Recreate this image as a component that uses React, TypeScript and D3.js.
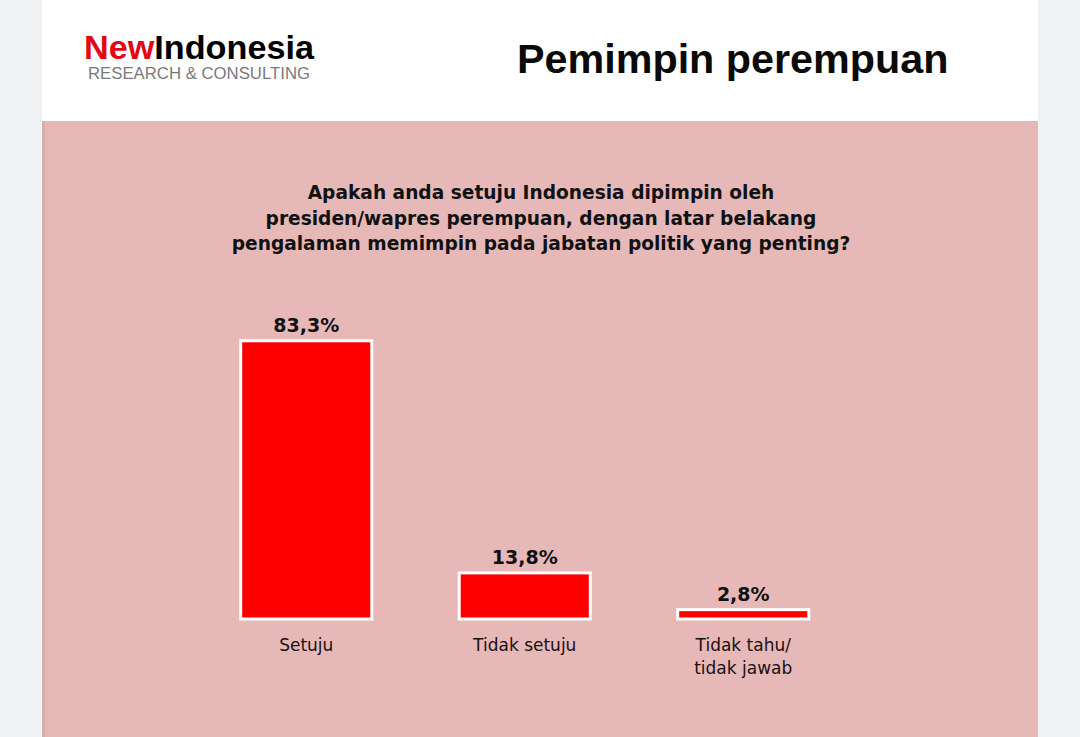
import React from 'react';
import * as d3 from 'd3';

const categories: string[] = ['Setuju', 'Tidak setuju', 'Tidak tahu/\ntidak jawab'];
const values: number[] = [83.3, 13.8, 2.8];
const valueLabels: string[] = ['83,3%', '13,8%', '2,8%'];
const questionLines: string[] = [
    'Apakah anda setuju Indonesia dipimpin oleh',
    'presiden/wapres perempuan, dengan latar belakang',
    'pengalaman memimpin pada jabatan politik yang penting?',
];

const W = 1080;
const H = 737;
const bodyFont = '"DejaVu Sans", Verdana, sans-serif';
const headFont = '"Liberation Sans", Arial, sans-serif';

const App: React.FC = () => {
    const x = d3.scaleBand<string>()
        .domain(categories)
        .range([197, 852.5])
        .paddingInner(0.4)
        .paddingOuter(0.2);
    const y = d3.scaleLinear().domain([0, 100]).range([619, 285]);

    return (
        <svg width={W} height={H} style={{position: 'absolute', left: 0, top: 0}}>
            <rect x={0} y={0} width={W} height={H} fill="#f1f2f4"/>
            <rect x={42} y={0} width={996} height={H} fill="#ffffff"/>
            <rect x={42} y={121} width={996} height={H - 121} fill="#e6b8b8"/>
            <rect x={42} y={121} width={3} height={H - 121} fill="#d9aeae"/>

            {/* header */}
            <text x={84} y={59} fontFamily={headFont} fontWeight="bold" fontSize={33}
                  textLength={230} lengthAdjust="spacingAndGlyphs">
                <tspan fill="#e30613">New</tspan><tspan fill="#000">Indonesia</tspan>
            </text>
            <text x={88} y={79} fontFamily={headFont} fontSize={16.6} fill="#7a7a7a"
                  textLength={222} lengthAdjust="spacingAndGlyphs">RESEARCH &amp; CONSULTING</text>
            <text x={517} y={73} fontFamily={headFont} fontWeight="bold" fontSize={41.3} fill="#0a0a0a">
                Pemimpin perempuan
            </text>

            {/* question */}
            {questionLines.map((l, i) => (
                <text key={i} x={541} y={199 + i * 25.5} textAnchor="middle" fontFamily={bodyFont}
                      fontWeight="bold" fontSize={18.6} fill="#111">{l}</text>
            ))}

            {/* bars */}
            {categories.map((c, i) => (
                <g key={c}>
                    <rect x={x(c)} y={y(values[i])} width={x.bandwidth()} height={y(0) - y(values[i])}
                          fill="#ff0000" stroke="#ffffff" strokeWidth={3}/>
                    <text x={(x(c) ?? 0) + x.bandwidth() / 2} y={y(values[i]) - 9} textAnchor="middle"
                          fontFamily={bodyFont} fontWeight="bold" fontSize={19} fill="#111">
                        {valueLabels[i]}
                    </text>
                    {c.split('\n').map((line, j) => (
                        <text key={j} x={(x(c) ?? 0) + x.bandwidth() / 2} y={y(0) + 32 + j * 23}
                              textAnchor="middle" fontFamily={bodyFont} fontSize={17} fill="#1a1010">
                            {line}
                        </text>
                    ))}
                </g>
            ))}
        </svg>
    );
};

export default App;
